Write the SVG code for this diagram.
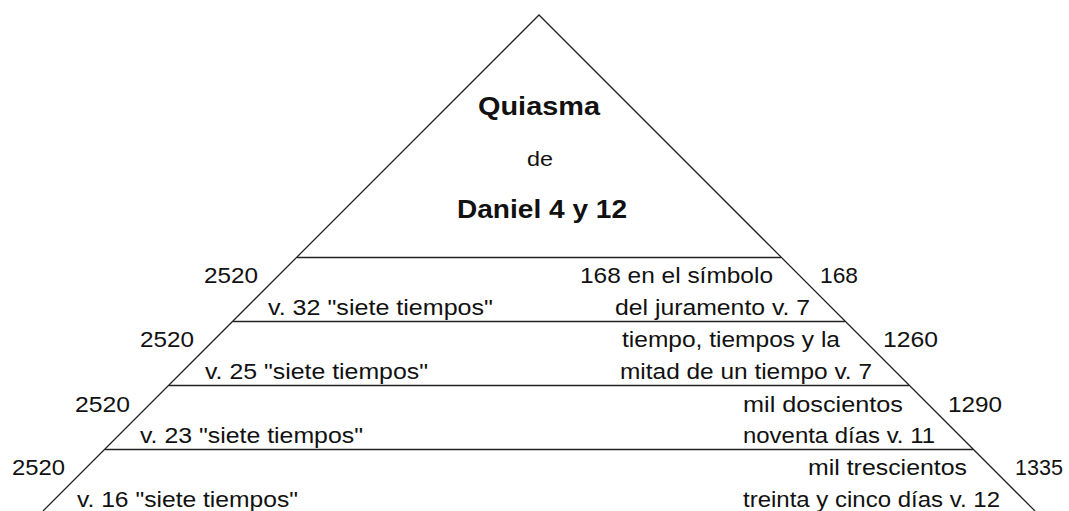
<svg xmlns="http://www.w3.org/2000/svg" width="1069" height="511" viewBox="0 0 1069 511">
<style>
text{font-family:"Liberation Sans",Arial,sans-serif;fill:#111;font-size:22px}
.b{font-weight:bold;font-size:26px}
.t{font-size:21px}
line,polyline{stroke:#222;stroke-width:1.3;fill:none}
</style>
<rect width="1069" height="511" fill="#fff"/>
<g id="frame">
<polyline points="43,511 539,15 1035,511"/>
<line x1="297" y1="257.5" x2="781" y2="257.5"/>
<line x1="233" y1="321.5" x2="845" y2="321.5"/>
<line x1="169" y1="385.5" x2="909" y2="385.5"/>
<line x1="105" y1="449.5" x2="973" y2="449.5"/>
</g>
<g id="title">
<text class="b" x="478" y="115" textLength="122" lengthAdjust="spacingAndGlyphs">Quiasma</text>
<text class="t" x="527" y="166" textLength="26" lengthAdjust="spacingAndGlyphs">de</text>
<text class="b" x="457" y="218" textLength="170" lengthAdjust="spacingAndGlyphs">Daniel 4 y 12</text>
</g>
<g id="left">
<text x="204" y="283" textLength="54" lengthAdjust="spacingAndGlyphs">2520</text>
<text x="268" y="315" textLength="225" lengthAdjust="spacingAndGlyphs">v. 32 "siete tiempos"</text>
<text x="140" y="347" textLength="54" lengthAdjust="spacingAndGlyphs">2520</text>
<text x="205" y="379" textLength="223" lengthAdjust="spacingAndGlyphs">v. 25 "siete tiempos"</text>
<text x="75" y="412" textLength="55" lengthAdjust="spacingAndGlyphs">2520</text>
<text x="140" y="443" textLength="223" lengthAdjust="spacingAndGlyphs">v. 23 "siete tiempos"</text>
<text x="12" y="475" textLength="53" lengthAdjust="spacingAndGlyphs">2520</text>
<text x="77" y="507" textLength="221" lengthAdjust="spacingAndGlyphs">v. 16 "siete tiempos"</text>
</g>
<g id="right">
<text x="580" y="283" textLength="193" lengthAdjust="spacingAndGlyphs">168 en el símbolo</text>
<text x="615" y="315" textLength="195" lengthAdjust="spacingAndGlyphs">del juramento v. 7</text>
<text x="820" y="283" textLength="38" lengthAdjust="spacingAndGlyphs">168</text>
<text x="622" y="347" textLength="218" lengthAdjust="spacingAndGlyphs">tiempo, tiempos y la</text>
<text x="620" y="379" textLength="252" lengthAdjust="spacingAndGlyphs">mitad de un tiempo v. 7</text>
<text x="883" y="347" textLength="55" lengthAdjust="spacingAndGlyphs">1260</text>
<text x="743" y="412" textLength="160" lengthAdjust="spacingAndGlyphs">mil doscientos</text>
<text x="743" y="443" textLength="192" lengthAdjust="spacingAndGlyphs">noventa días v. 11</text>
<text x="948" y="412" textLength="54" lengthAdjust="spacingAndGlyphs">1290</text>
<text x="808" y="475" textLength="159" lengthAdjust="spacingAndGlyphs">mil trescientos</text>
<text x="743" y="507" textLength="257" lengthAdjust="spacingAndGlyphs">treinta y cinco días v. 12</text>
<text x="1015" y="475" textLength="48" lengthAdjust="spacingAndGlyphs">1335</text>
</g>
</svg>
